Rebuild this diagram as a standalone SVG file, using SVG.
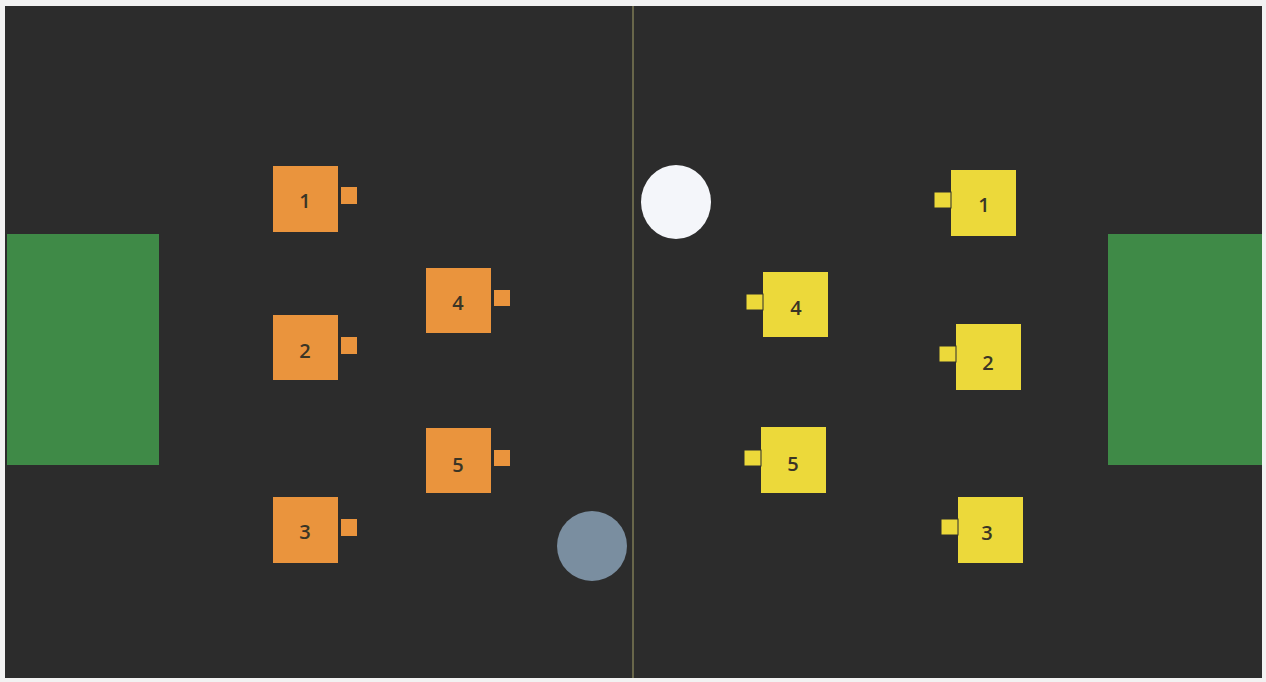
<svg xmlns="http://www.w3.org/2000/svg" width="1266" height="682" viewBox="0 0 1266 682">
<style>
.bg{fill:#2c2c2c}
.goal{fill:#3f8a47}
.o{fill:#ea943d}
.y{fill:#ecd93a}
.yn{fill:#ecd93a;stroke:#2c2c2c;stroke-width:1}
.lbl{font-family:"Open Sans","Liberation Sans",sans-serif;font-size:20px;font-weight:600;fill:#3a3526;text-anchor:middle;dominant-baseline:central}
</style>
<rect x="0" y="0" width="1266" height="682" fill="#f2f2f2"/>
<rect class="bg" x="5" y="6" width="1257" height="672"/>
<line x1="633" y1="6" x2="633" y2="678" stroke="#7d7a55" stroke-width="1.5"/>
<rect class="goal" x="7" y="234" width="152" height="231"/>
<rect class="goal" x="1108" y="234" width="154" height="231"/>
<g id="o1"><rect class="o" x="273" y="166" width="65" height="66"/><rect class="o" x="341" y="187" width="16" height="17"/><text class="lbl" x="305" y="200">1</text></g>
<g id="o2"><rect class="o" x="273" y="315" width="65" height="65"/><rect class="o" x="341" y="337" width="16" height="17"/><text class="lbl" x="305" y="350">2</text></g>
<g id="o3"><rect class="o" x="273" y="497" width="65" height="66"/><rect class="o" x="341" y="519" width="16" height="17"/><text class="lbl" x="305" y="531">3</text></g>
<g id="o4"><rect class="o" x="426" y="268" width="65" height="65"/><rect class="o" x="494" y="290" width="16" height="16"/><text class="lbl" x="458" y="302">4</text></g>
<g id="o5"><rect class="o" x="426" y="428" width="65" height="65"/><rect class="o" x="494" y="450" width="16" height="16"/><text class="lbl" x="458" y="464">5</text></g>
<g id="y1"><rect class="y" x="951" y="170" width="65" height="66"/><rect class="yn" x="934" y="192" width="17" height="16"/><text class="lbl" x="984" y="204">1</text></g>
<g id="y4"><rect class="y" x="763" y="272" width="65" height="65"/><rect class="yn" x="746" y="294" width="17" height="16"/><text class="lbl" x="796" y="307">4</text></g>
<g id="y2"><rect class="y" x="956" y="324" width="65" height="66"/><rect class="yn" x="939" y="346" width="17" height="16"/><text class="lbl" x="988" y="362">2</text></g>
<g id="y5"><rect class="y" x="761" y="427" width="65" height="66"/><rect class="yn" x="744" y="450" width="17" height="16"/><text class="lbl" x="793" y="463">5</text></g>
<g id="y3"><rect class="y" x="958" y="497" width="65" height="66"/><rect class="yn" x="941" y="519" width="17" height="16"/><text class="lbl" x="987" y="532">3</text></g>
<g id="ball"><ellipse cx="676" cy="202" rx="35" ry="37" fill="#f4f6fa"/></g>
<g id="puck"><circle cx="592" cy="546" r="35" fill="#7a8ea0"/></g>
<g id="connectors"></g>
</svg>
